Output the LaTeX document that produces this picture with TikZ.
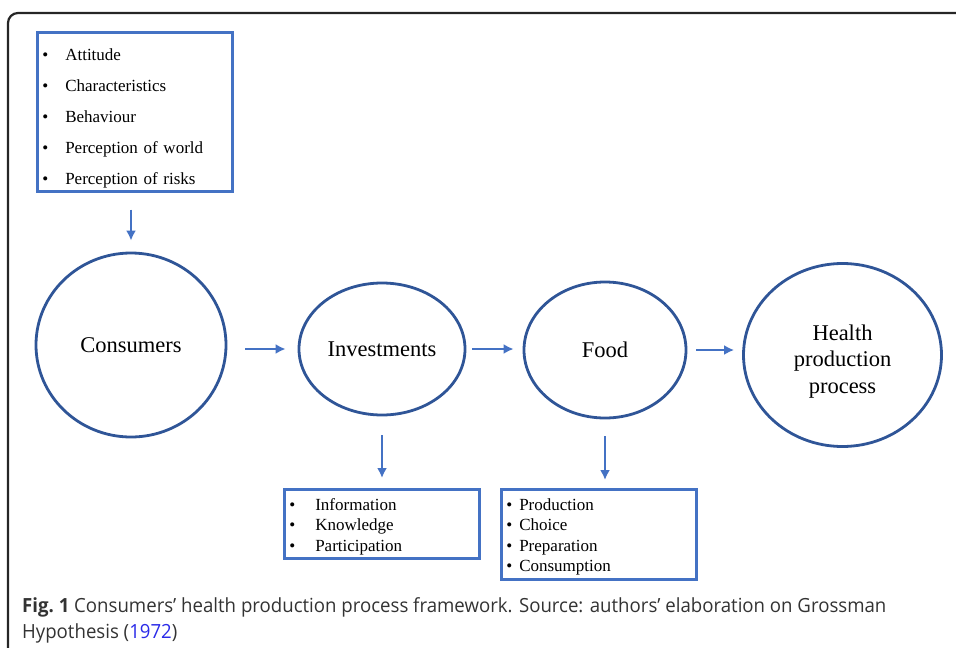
\documentclass[tikz,border=0pt]{standalone}
\usepackage{fontspec}
\setmainfont{Liberation Serif}
\newfontfamily\capfont[FakeStretch=0.955]{Open Sans}
\usetikzlibrary{arrows.meta,shapes.geometric,calc}
\definecolor{boxblue}{HTML}{4472C4}
\definecolor{ringblue}{HTML}{2F5597}
\definecolor{yearblue}{HTML}{2A2AE8}

\tikzset{
  listbox/.style={draw=boxblue,line width=2.6pt,rectangle,anchor=north west,
    align=left,inner xsep=5pt,inner ysep=0pt},
  stage/.style={draw=ringblue,line width=2.8pt,ellipse,inner sep=0pt,align=center,
    font=\fontsize{22.5}{26.5}\selectfont},
  flow/.style={draw=boxblue,line width=2.7pt,-{Latex[length=10pt,width=10pt]}}
}
\newcommand{\bul}[1]{\makebox[#1][l]{•}}

\begin{document}
\begin{tikzpicture}[x=1pt,y=-1pt]
  \useasboundingbox (0,0) rectangle (956,648);
  % frame round the figure
  \draw[black!85,line width=2.2pt,rounded corners=10pt] (8,648) -- (8,13) -- (956,13);

  \node[listbox,text width=185pt,text height=28.5pt,text depth=130.5pt,
        font=\fontsize{17}{31}\selectfont] (traits) at (36,31)
       {\bul{23pt}Attitude\\ \bul{23pt}Characteristics\\ \bul{23pt}Behaviour\\
        \bul{23pt}Perception of world\\ \bul{23pt}Perception of risks};

  \node[stage,minimum width=190pt,minimum height=184pt,text height=17pt,text depth=2pt]
       (cons) at (131,345) {Consumers};
  \node[stage,minimum width=166pt,minimum height=132pt] (inv) at (382,349) {Investments};
  \node[stage,minimum width=162pt,minimum height=136pt] (food) at (605,350) {Food};
  \node[stage,minimum width=198pt,minimum height=183pt,text height=78pt,text depth=2pt]
       (health) at (842.5,355) {Health\\production\\process};

  \node[listbox,text width=185pt,text height=21pt,text depth=48pt,
        font=\fontsize{17}{20.4}\selectfont] (know) at (283,488)
       {\bul{26pt}Information\\ \bul{26pt}Knowledge\\ \bul{26pt}Participation};
  \node[listbox,text width=185pt,text height=21pt,text depth=69pt,
        font=\fontsize{17}{20.4}\selectfont] (uses) at (500,488)
       {\bul{13pt}Production\\ \bul{13pt}Choice\\ \bul{13pt}Preparation\\ \bul{13pt}Consumption};

  \draw[flow,shorten <=17pt,shorten >=11pt] (cons.north |- traits.south) -- (cons.north);
  \draw[flow,shorten <=18pt,shorten >=12pt] (cons.east |- inv.west) -- (inv.west);
  \draw[flow,shorten <=6pt,shorten >=9pt] (inv.east) -- (inv.east -| food.west);
  \draw[flow,shorten <=9pt,shorten >=8pt] (food.east) -- (food.east -| health.west);
  \draw[flow,shorten <=19pt,shorten >=10pt] (inv.south) -- (inv.south |- know.north);
  \draw[flow,shorten <=17pt,shorten >=8pt] (food.south) -- (food.south |- uses.north);

  \node[anchor=base west,align=left,inner sep=0pt,text=black!80,
        font=\capfont\fontsize{19.5}{26}\selectfont] (caption) at (22,638)
       {\textbf{Fig.\ 1} Consumers’ health production process framework. Source: authors’ elaboration on Grossman\\
        Hypothesis (\textcolor{yearblue}{1972})};
\end{tikzpicture}
\end{document}
